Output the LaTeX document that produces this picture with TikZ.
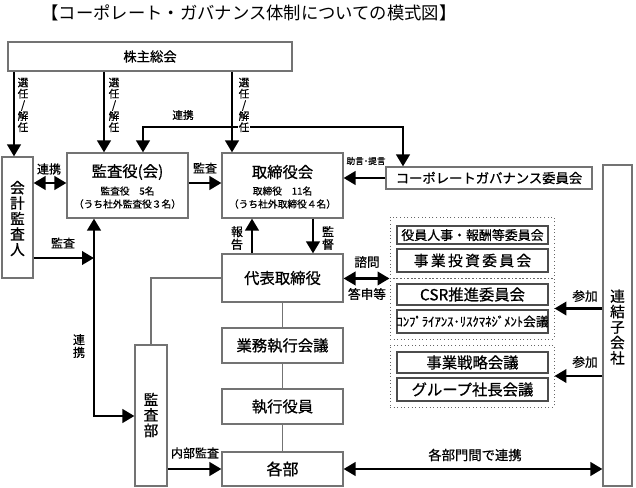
\documentclass[tikz,border=0pt]{standalone}
\usepackage{fontspec}
\setmainfont{Noto Sans CJK JP}[FakeBold=0.7]
\newfontfamily\titlefont{Noto Sans CJK JP}
\usetikzlibrary{arrows.meta,calc,fit}
\tikzset{
  box/.style={draw=black!55, line width=0.8pt, fill=white, inner sep=0pt},
  ibox/.style={draw=black!70, line width=0.8pt, inner sep=0pt},
  grp/.style={draw=black!60, dotted, line width=0.7pt, inner sep=0pt},
  arr/.style={line width=2.1pt, -{Triangle[length=9pt,width=10pt]}},
  darr/.style={line width=2.1pt, {Triangle[length=9pt,width=10pt]}-{Triangle[length=9pt,width=10pt]}},
  tline/.style={draw=black!55, line width=0.8pt},
  lab/.style={font=\fontsize{9}{10}\selectfont, inner sep=0.5pt},
  vlab/.style={font=\fontsize{8}{8.4}\selectfont, inner sep=0.5pt, align=center, fill=white},
  big/.style={font=\fontsize{11.5}{12}\selectfont},
}
\begin{document}
\begin{tikzpicture}[x=0.75pt,y=-0.75pt]
\useasboundingbox (0,0) rectangle (636,487);
% title
\node[font=\titlefont\fontsize{13}{14}\selectfont] (title) at (249,13) {【コーポレート・ガバナンス体制についての模式図】};
% column coordinates
\coordinate (xa) at (14,0);
\coordinate (xb) at (104,0);
\coordinate (xc) at (232,0);
\coordinate (xd) at (143,127);
\coordinate (xe) at (403,127);
\coordinate (ya) at (0,183);
\coordinate (xv) at (94,258);
\coordinate (xw) at (94,416);
\coordinate (xr) at (252,0);
\coordinate (xs) at (313,0);
% boxes
\node[box, fit={(8,42)(292,71)}] (kabu) {};
\node[font=\fontsize{10}{12}\selectfont] (kabut) at (kabu.center) {株主総会};
\node[box, fit={(2,157)(33,278)}] (kaikei) {};
\node[align=center, font=\fontsize{11}{11.6}\selectfont] (kaikeit) at (17.5,218.5) {会\\計\\監\\査\\人};
\node[box, fit={(67,153)(188,218)}] (kansa) {};
\node[big] (kansat1) at (127.5,172) {監査役(会)};
\node[font=\fontsize{7.3}{8}\selectfont] (kansat2) at (127.5,191) {監査役\quad 5名};
\node[font=\fontsize{7.3}{8}\selectfont] (kansat3) at (127.5,204) {（うち社外監査役３名）};
\node[box, fit={(222,153)(343,218)}] (tori) {};
\node[big] (torit1) at (282.5,172) {取締役会};
\node[font=\fontsize{7.3}{8}\selectfont] (torit2) at (282.5,191) {取締役\quad 11名};
\node[font=\fontsize{7.3}{8}\selectfont] (torit3) at (282.5,204) {（うち社外取締役４名）};
\node[box, fit={(386,167)(592,189)}] (cg) {};
\node[font=\fontsize{10}{12}\selectfont] (cgt) at (cg.center) {コーポレートガバナンス委員会};
\node[box, fit={(222,254)(343,302)}] (daihyo) {};
\node[big] (daihyot) at (daihyo.center) {代表取締役};
\node[box, fit={(222,328)(343,363)}] (gyomu) {};
\node[big] (gyomut) at (gyomu.center) {業務執行会議};
\node[box, fit={(222,389)(343,424)}] (shikko) {};
\node[big] (shikkot) at (shikko.center) {執行役員};
\node[box, fit={(222,452)(343,486)}] (kakubu) {};
\node[font=\fontsize{12}{13}\selectfont] (kakubut) at (kakubu.center) {各部};
\node[box, fit={(135,345)(167,486)}] (kansabu) {};
\node[align=center, font=\fontsize{11}{11.6}\selectfont] (kansabut) at (151,415) {監\\査\\部};
\node[box, fit={(603,165)(632,486)}] (renketsu) {};
\node[align=center, font=\fontsize{11}{11.6}\selectfont] (renketsut) at (617.5,327) {連\\結\\子\\会\\社};
% groups
\node[grp, fit={(390,217)(554,278)}] (g1) {};
\node[grp, fit={(390,278)(554,339)}] (g2) {};
\node[grp, fit={(390,345)(554,407)}] (g3) {};
\node[ibox, fit={(397,226)(548,244)}] (b1) {};
\node[font=\fontsize{9.7}{11}\selectfont] (b1t) at (b1.center) {役員人事・報酬等委員会};
\node[ibox, fit={(397,249)(548,272)}] (b2) {};
\node[font=\fontsize{11}{12}\selectfont] (b2t) at (b2.center) {事\,業\,投\,資\,委\,員\,会};
\node[ibox, fit={(397,284)(548,305)}] (b3) {};
\node[big] (b3t) at (b3.center) {CSR推進委員会};
\node[ibox, fit={(397,310)(548,333)}] (b4) {};
\node[font=\fontsize{9.5}{11}\selectfont] (b4t) at (b4.center) {ｺﾝﾌﾟﾗｲｱﾝｽ･ﾘｽｸﾏﾈｼﾞﾒﾝﾄ会議};
\node[ibox, fit={(397,352)(548,373)}] (b5) {};
\node[big] (b5t) at (b5.center) {事業戦略会議};
\node[ibox, fit={(397,378)(548,401)}] (b6) {};
\node[big] (b6t) at (b6.center) {グループ社長会議};
% arrows from shareholders
\draw[arr] (kabu.south -| xa) -- (kaikei.north -| xa);
\draw[arr] (kabu.south -| xb) -- (kansa.north -| xb);
\draw[arr] (kabu.south -| xc) -- (tori.north -| xc);
% top liaison
\draw[darr] (kansa.north -| xd) -- (xd) -- (xe) -- (cg.north -| xe);
\node[lab, font=\fontsize{8}{9}\selectfont] (l1) at (183,115) {連携};
% election labels
\node[vlab] (s1) at (23,105) {選\\任\\/\\解\\任};
\node[vlab] (s2) at (114,105) {選\\任\\/\\解\\任};
\node[vlab] (s3) at (244,105) {選\\任\\/\\解\\任};
% middle row
\draw[darr] (kaikei.east |- ya) -- (kansa.west |- ya);
\node[lab] (l2) at (49,169) {連携};
\draw[arr] (kansa.east |- ya) -- (tori.west |- ya);
\node[lab] (l3) at (205,168) {監査};
\draw[arr] (cg.west) -- (tori.east |- cg.west);
\node[lab, font=\fontsize{6.5}{7}\selectfont] (l4) at (366,161) {助言･提言};
\draw[arr] (daihyo.north -| xr) -- (tori.south -| xr);
\node[lab, align=center, font=\fontsize{9}{9.5}\selectfont] (l5) at (237,238) {報\\告};
\draw[arr] (tori.south -| xs) -- (daihyo.north -| xs);
\node[lab, align=center, font=\fontsize{9}{9.5}\selectfont] (l6) at (328,238) {監\\督};
% auditor links
\draw[arr] (kaikei.east |- xv) -- (xv);
\node[lab] (l7) at (63,243) {監査};
\draw[darr] (kansa.south -| xw) -- (xw) -- (kansabu.west |- xw);
\node[lab, align=center, font=\fontsize{9}{9.5}\selectfont] (l8) at (79,346) {連\\携};
% consultation
\draw[darr] (daihyo.east |- g1.south) -- (g1.south west);
\node[lab, font=\fontsize{9.5}{10}\selectfont] (l9) at (367,262) {諮問};
\node[lab, font=\fontsize{9.5}{10}\selectfont] (l10) at (367,294) {答申等};
% thin lines
\draw[tline] (daihyo.west) -| (kansabu.north);
\draw[tline] (daihyo.south) -- (gyomu.north);
\draw[tline] (gyomu.south) -- (shikko.north);
\draw[tline] (shikko.south) -- (kakubu.north);
% bottom
\draw[arr] (kansabu.east |- kakubu.west) -- (kakubu.west);
\node[lab] (l11) at (195,453) {内部監査};
\draw[darr] (kakubu.east) -- (renketsu.west |- kakubu.east);
\node[lab, font=\fontsize{10}{11}\selectfont] (l12) at (475,455) {各部門間で連携};
% participation
\draw[arr] (renketsu.west |- g2.east) -- (g2.east);
\node[lab, font=\fontsize{9.5}{10}\selectfont] (l13) at (585,296) {参加};
\draw[arr] (renketsu.west |- g3.east) -- (g3.east);
\node[lab, font=\fontsize{9.5}{10}\selectfont] (l14) at (585,362) {参加};
\end{tikzpicture}
\end{document}
